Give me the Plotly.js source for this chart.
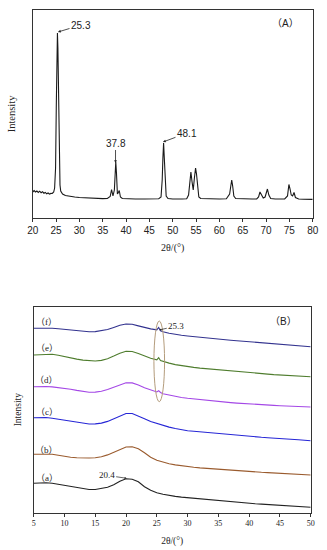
<!DOCTYPE html>
<html>
<head>
<meta charset="utf-8">
<script src="https://cdn.plot.ly/plotly-3.0.1.min.js"></script>
<style>html,body{margin:0;padding:0;background:#fff;}#chart{width:327px;height:550px;}</style>
</head>
<body>
<div id="chart"></div>
<script>
// Panel (A): XRD pattern of TiO2
var aTheta = [20,20.3,20.6,20.9,21.2,21.5,21.8,22.1,22.4,22.7,23,23.3,23.6,23.9,24.2,24.5,24.7,24.9,25.05,25.2,25.3,25.4,25.55,25.7,25.85,26,26.4,27,28,29,30,31,32,33,34,35,36,36.6,36.9,37.2,37.5,37.65,37.8,37.95,38.15,38.3,38.55,38.8,39.2,40,42,44,46,47,47.5,47.75,47.9,48.05,48.2,48.4,48.6,49,50,52,53,53.4,53.7,53.9,54.15,54.4,54.65,54.9,55.1,55.35,55.6,56,58,60,61.5,62,62.2,62.45,62.65,62.85,63.1,63.5,65,67,68,68.4,68.7,69,69.4,69.8,70.1,70.3,70.6,71,72,74,74.6,74.9,75.15,75.4,75.7,76,76.3,77,78,80];
var aIntensity = [26,27.5,26,27,25.5,26.8,25.3,26.3,24.8,25.6,24.2,25,23.8,24.6,24.5,26,30,50,110,170,185,170,110,55,33,27,24,22.5,21.5,21,20.5,20.2,20,19.8,19.6,19.4,19.5,21.5,28.5,22,28,45,56,45,24,25,27.5,21,19.5,19.2,19,19,19,19.3,21,38,60,75,60,35,22,19.5,19,19,19.3,23,38,46,36,28,40,50,44,28,21,19.5,19,19,19.3,22,24,32,38,32,22,19.5,19,19,19,21,26,23,20,21,27,29,23,19.5,19,19,22,33.5,29,23,22,25.5,20.5,19,18.8,18.6];

// Panel (B): six offset patterns
var bTheta = [5,6,7,8,9,10,11,12,13,14,15,16,17,18,19,20,21,22,23,24,25,26,27,28,29,30,31,32,33,34,35,36,37,38,39,40,41,42,43,44,45,46,47,48,49,50];
var bThetaPk = [5,6,7,8,9,10,11,12,13,14,15,16,17,18,19,20,21,22,23,24,25,25.3,25.6,26,27,28,29,30,31,32,33,34,35,36,37,38,39,40,41,42,43,44,45,46,47,48,49,50];
var curveA = [29.5,29.8,30,29.5,28.5,27,25.8,24.8,23.8,23.2,23.2,24,25.5,28,31.5,34,33.5,31,26,22.5,20,18.5,17.2,16.3,15.6,15,14.5,13.8,13.2,12.6,12,11.5,11,10.5,10,9.5,9,8.6,8.2,7.8,7.4,7,6.6,6.2,5.8,5.4];
var curveB = [58.4,58.6,58.8,58.5,57.5,56.3,55.5,55,54.7,54.7,55,56,57.8,60.5,63.5,65.7,66,64,60,55.5,52.5,50.5,49,47.8,46.8,46,45.4,44.8,44.3,43.8,43.4,43,42.5,42,41.5,41,40.7,40.4,40.1,39.7,39.4,39,38.7,38.3,38,37.7];
var curveC = [95,95.3,95.2,94.5,93.6,92.7,91.5,90.3,89.3,88.7,88.8,89.6,91.3,94,97,99.2,99.2,97,94,91.2,89.2,87.3,85.6,84.2,83,82,81.4,80.8,80.3,79.8,79.4,78.7,78,77.3,76.6,76,75.7,75.4,75,74.7,74.4,73.9,73.4,72.9,72.4,72];
var curveD = [126,126.3,126.2,125.8,125.2,124.4,123.4,122.3,121.2,120.5,120.6,121.5,123.2,125.6,128.3,130,129.8,127.8,125,122.5,120.8,122,120.2,119,117.5,116.2,115.2,114.4,113.7,113,112.3,111.6,111,110.5,110.1,109.6,109.1,108.7,108.4,108,107.7,107.3,107,106.7,106.5,106.2,106,105.7];
var curveE = [157.7,158.1,158.5,158.4,157.4,156,154.7,153.6,152.6,151.9,151.7,152.3,154,156.6,159.5,161.5,161.2,159.2,156.7,154.4,152.8,155,152.2,151.3,149.6,148.1,147,146,145.3,144.6,144,143.3,142.7,142.1,141.6,141,140.5,140,139.5,139,138.6,138.1,137.7,137.3,137,136.6,136.3,136];
var curveF = [184.4,184.6,184.8,184.5,184,183.4,182.6,181.9,181.3,181,181.1,181.8,183.2,185.3,187.5,188.7,188.4,186.8,185,183.8,182.8,185.3,182,181,179.5,178.3,177.4,176.7,176,175.4,174.8,174.2,173.7,173.1,172.5,172,171.5,171,170.5,170,169.6,169.1,168.7,168.2,167.6,167.1,166.5,166];
var curveLabels = ['（a）','（b）','（c）','（d）','（e）','（f）'];
var curveColors = ['#222222','#9a5b2e','#2626d6','#a448e6','#4f7d2e','#33338f'];

var serif = '"Times New Roman", "Liberation Serif", "Noto Sans CJK SC", serif';
var sans = 'Arial, "Liberation Sans", "Noto Sans CJK SC", sans-serif';

var bSeries = [[bTheta, curveA],[bTheta, curveB],[bTheta, curveC],[bThetaPk, curveD],[bThetaPk, curveE],[bThetaPk, curveF]];

var traces = [{
  x: aTheta, y: aIntensity, type: 'scatter', mode: 'lines',
  line: {color: '#1a1a1a', width: 1.1}, xaxis: 'x', yaxis: 'y', showlegend: false, hoverinfo: 'skip'
}];
bSeries.forEach(function(s, i){
  traces.push({x: s[0], y: s[1], type: 'scatter', mode: 'lines',
    line: {color: curveColors[i], width: 1.1}, xaxis: 'x2', yaxis: 'y2', showlegend: false, name: curveLabels[i], hoverinfo: 'skip'});
});

var annotations = [
  {xref:'x', yref:'y', x:25.42, y:186, text:'25.3', showarrow:true, arrowhead:2, arrowsize:0.7, arrowwidth:0.8, arrowcolor:'#222', ax:23, ay:-7, font:{family:sans, size:10, color:'#222'}},
  {xref:'x', yref:'y', x:37.75, y:55, text:'37.8', showarrow:true, arrowhead:2, arrowsize:0.7, arrowwidth:0.8, arrowcolor:'#222', ax:0, ay:-20, font:{family:sans, size:10, color:'#222'}},
  {xref:'x', yref:'y', x:47.92, y:76, text:'48.1', showarrow:true, arrowhead:2, arrowsize:0.7, arrowwidth:0.8, arrowcolor:'#222', ax:24, ay:-9, font:{family:sans, size:10, color:'#222'}},
  {xref:'paper', yref:'paper', x:285/327, y:1-23/550, xanchor:'center', yanchor:'middle', text:'（A）', showarrow:false, font:{family:sans, size:10, color:'#222'}},
  {xref:'paper', yref:'paper', x:283/327, y:1-321.7/550, xanchor:'center', yanchor:'middle', text:'（B）', showarrow:false, font:{family:sans, size:10, color:'#222'}},
  {xref:'x2', yref:'y2', x:20.1, y:34.4, text:'20.4', showarrow:true, arrowhead:2, arrowsize:0.6, arrowwidth:0.7, arrowcolor:'#222', ax:-20, ay:-3, font:{family:serif, size:9, color:'#222'}},
  {xref:'x2', yref:'y2', x:25.4, y:182.7, text:'25.3', showarrow:true, arrowhead:2, arrowsize:0.6, arrowwidth:0.7, arrowcolor:'#222', ax:17, ay:-4, font:{family:serif, size:9, color:'#222'}}
];
var labelY = [34.4, 62.7, 101, 132.7, 164.4, 191];
curveLabels.forEach(function(t, i){
  annotations.push({xref:'paper', yref:'y2', x:46.7/327, y:labelY[i], xanchor:'center', yanchor:'middle', text:t, showarrow:false, font:{family:serif, size:9, color:'#222'}});
});

var layout = {
  width: 327, height: 550,
  margin: {l:0, r:0, t:0, b:0},
  paper_bgcolor: '#fff', plot_bgcolor: '#fff',
  showlegend: false,
  xaxis: {domain:[32.7/327, 312.7/327], anchor:'y', range:[20,80], dtick:5, tick0:20,
    ticks:'outside', ticklen:3, tickwidth:1, tickcolor:'#333', showline:true, linecolor:'#333', linewidth:1, mirror:true,
    showgrid:false, zeroline:false, tickfont:{family:sans, size:10, color:'#222'},
    title:{text:'2θ/(°)', font:{family:serif, size:10, color:'#222'}, standoff:8}},
  yaxis: {domain:[1-218/550, 1-10/550], anchor:'x', range:[0,208], showticklabels:false, ticks:'',
    showline:true, linecolor:'#333', linewidth:1, mirror:true, showgrid:false, zeroline:false,
    title:{text:'Intensity', font:{family:serif, size:10.5, color:'#222'}, standoff:14}},
  xaxis2: {domain:[33.7/327, 310.7/327], anchor:'y2', range:[5,50], dtick:5, tick0:5,
    ticks:'outside', ticklen:3, tickwidth:1, tickcolor:'#333', showline:true, linecolor:'#333', linewidth:1, mirror:true,
    showgrid:false, zeroline:false, tickfont:{family:serif, size:8, color:'#222'},
    title:{text:'2θ/(°)', font:{family:serif, size:9.5, color:'#222'}, standoff:10}},
  yaxis2: {domain:[1-512.7/550, 1-306.7/550], anchor:'x2', range:[0,206], showticklabels:false, ticks:'',
    showline:true, linecolor:'#333', linewidth:1, mirror:true, showgrid:false, zeroline:false,
    title:{text:'Intensity', font:{family:serif, size:9.5, color:'#222'}, standoff:9}},
  annotations: annotations,
  shapes: [{type:'circle', xref:'x2', yref:'y2', x0:24.53, x1:26.26, y0:111, y1:191.7, line:{color:'#b49c7c', width:1}}]
};

Plotly.newPlot('chart', traces, layout, {staticPlot:true, displayModeBar:false});
</script>
</body>
</html>
